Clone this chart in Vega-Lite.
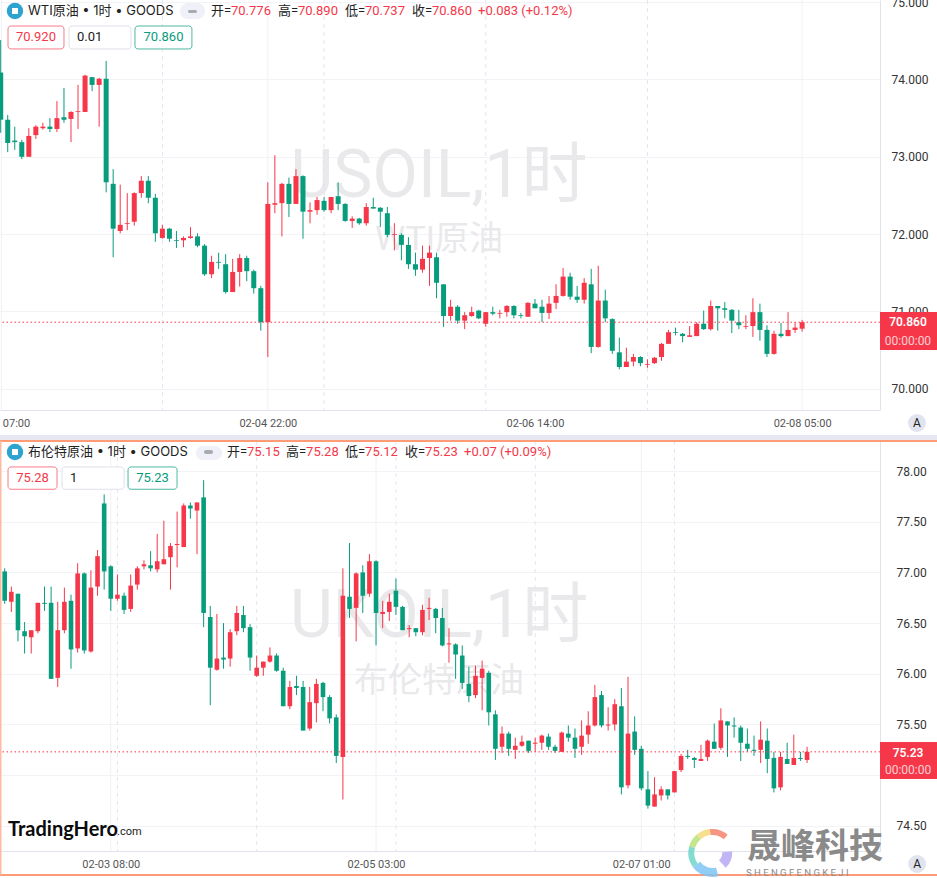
{"$schema":"https://vega.github.io/schema/vega-lite/v6.json","padding":{"left":-1,"right":0,"top":-4,"bottom":0},"background":"white","bounds":"flush","spacing":31,
"config":{"view":{"stroke":null},"font":"Roboto, 'Noto Sans CJK SC', sans-serif"},
"datasets":{
"wti":[{"i":0,"o":74.09,"h":74.51,"l":73.31,"c":73.48},{"i":1,"o":73.48,"h":73.54,"l":73.06,"c":73.18},{"i":2,"o":73.21,"h":73.39,"l":73.09,"c":73.19},{"i":3,"o":73.19,"h":73.22,"l":72.97,"c":73.0},{"i":4,"o":73.0,"h":73.37,"l":73.0,"c":73.27},{"i":5,"o":73.28,"h":73.41,"l":73.23,"c":73.39},{"i":6,"o":73.37,"h":73.44,"l":73.35,"c":73.39},{"i":7,"o":73.39,"h":73.5,"l":73.32,"c":73.36},{"i":8,"o":73.36,"h":73.72,"l":73.32,"c":73.5},{"i":9,"o":73.51,"h":73.89,"l":73.44,"c":73.48},{"i":10,"o":73.49,"h":73.59,"l":73.19,"c":73.58},{"i":11,"o":73.58,"h":73.93,"l":73.36,"c":73.59},{"i":12,"o":73.58,"h":74.06,"l":73.58,"c":74.05},{"i":13,"o":74.03,"h":74.03,"l":73.85,"c":73.93},{"i":14,"o":73.93,"h":74.02,"l":73.39,"c":74.01},{"i":15,"o":74.01,"h":74.24,"l":72.54,"c":72.67},{"i":16,"o":72.65,"h":72.84,"l":71.7,"c":72.07},{"i":17,"o":72.04,"h":72.64,"l":72.01,"c":72.12},{"i":18,"o":72.13,"h":72.53,"l":72.05,"c":72.14},{"i":19,"o":72.16,"h":72.54,"l":72.11,"c":72.53},{"i":20,"o":72.53,"h":72.75,"l":72.47,"c":72.69},{"i":21,"o":72.69,"h":72.75,"l":72.4,"c":72.47},{"i":22,"o":72.47,"h":72.52,"l":71.9,"c":72.01},{"i":23,"o":71.95,"h":72.12,"l":71.94,"c":72.07},{"i":24,"o":72.07,"h":72.08,"l":71.9,"c":71.94},{"i":25,"o":71.92,"h":72.04,"l":71.82,"c":71.91},{"i":26,"o":71.92,"h":71.97,"l":71.83,"c":71.95},{"i":27,"o":71.95,"h":72.09,"l":71.94,"c":71.97},{"i":28,"o":71.97,"h":72.01,"l":71.83,"c":71.85},{"i":29,"o":71.85,"h":71.87,"l":71.46,"c":71.48},{"i":30,"o":71.48,"h":71.72,"l":71.43,"c":71.64},{"i":31,"o":71.64,"h":71.76,"l":71.55,"c":71.63},{"i":32,"o":71.61,"h":71.74,"l":71.23,"c":71.25},{"i":33,"o":71.25,"h":71.68,"l":71.25,"c":71.51},{"i":34,"o":71.51,"h":71.74,"l":71.32,"c":71.69},{"i":35,"o":71.69,"h":71.72,"l":71.39,"c":71.52},{"i":36,"o":71.52,"h":71.54,"l":71.23,"c":71.3},{"i":37,"o":71.3,"h":71.33,"l":70.75,"c":70.86},{"i":38,"o":70.86,"h":72.67,"l":70.41,"c":72.39},{"i":39,"o":72.38,"h":73.02,"l":72.27,"c":72.4},{"i":40,"o":72.4,"h":72.66,"l":71.97,"c":72.65},{"i":41,"o":72.65,"h":72.73,"l":72.22,"c":72.39},{"i":42,"o":72.39,"h":72.84,"l":72.39,"c":72.75},{"i":43,"o":72.75,"h":72.76,"l":71.94,"c":72.29},{"i":44,"o":72.29,"h":72.41,"l":72.14,"c":72.31},{"i":45,"o":72.31,"h":72.48,"l":72.25,"c":72.44},{"i":46,"o":72.43,"h":72.48,"l":72.29,"c":72.31},{"i":47,"o":72.31,"h":72.48,"l":72.27,"c":72.48},{"i":48,"o":72.49,"h":72.67,"l":72.31,"c":72.39},{"i":49,"o":72.39,"h":72.4,"l":72.16,"c":72.17},{"i":50,"o":72.17,"h":72.23,"l":72.08,"c":72.2},{"i":51,"o":72.2,"h":72.21,"l":72.12,"c":72.14},{"i":52,"o":72.14,"h":72.4,"l":72.11,"c":72.35},{"i":53,"o":72.35,"h":72.47,"l":72.33,"c":72.33},{"i":54,"o":72.34,"h":72.35,"l":72.09,"c":72.29},{"i":55,"o":72.27,"h":72.35,"l":71.96,"c":71.99},{"i":56,"o":71.99,"h":72.14,"l":71.79,"c":72.0},{"i":57,"o":71.99,"h":72.01,"l":71.66,"c":71.86},{"i":58,"o":71.86,"h":71.96,"l":71.55,"c":71.61},{"i":59,"o":71.61,"h":71.76,"l":71.46,"c":71.54},{"i":60,"o":71.54,"h":71.85,"l":71.5,"c":71.68},{"i":61,"o":71.69,"h":71.85,"l":71.33,"c":71.76},{"i":62,"o":71.7,"h":71.76,"l":71.17,"c":71.37},{"i":63,"o":71.35,"h":71.35,"l":70.8,"c":70.94},{"i":64,"o":70.94,"h":71.15,"l":70.88,"c":71.06},{"i":65,"o":71.06,"h":71.08,"l":70.84,"c":70.88},{"i":66,"o":70.88,"h":70.99,"l":70.77,"c":70.95},{"i":67,"o":70.94,"h":71.06,"l":70.93,"c":70.99},{"i":68,"o":71.01,"h":71.02,"l":70.9,"c":70.91},{"i":69,"o":70.84,"h":70.99,"l":70.8,"c":70.99},{"i":70,"o":70.99,"h":71.06,"l":70.95,"c":70.97},{"i":71,"o":70.97,"h":71.02,"l":70.91,"c":70.98},{"i":72,"o":70.99,"h":71.08,"l":70.93,"c":71.07},{"i":73,"o":71.07,"h":71.08,"l":70.91,"c":70.95},{"i":74,"o":70.95,"h":70.98,"l":70.91,"c":70.94},{"i":75,"o":70.93,"h":71.12,"l":70.93,"c":71.11},{"i":76,"o":71.1,"h":71.16,"l":71.04,"c":71.04},{"i":77,"o":71.06,"h":71.15,"l":70.86,"c":70.98},{"i":78,"o":70.98,"h":71.2,"l":70.9,"c":71.1},{"i":79,"o":71.11,"h":71.35,"l":71.03,"c":71.2},{"i":80,"o":71.2,"h":71.56,"l":71.19,"c":71.45},{"i":81,"o":71.45,"h":71.5,"l":71.15,"c":71.19},{"i":82,"o":71.19,"h":71.33,"l":71.11,"c":71.15},{"i":83,"o":71.15,"h":71.43,"l":71.1,"c":71.37},{"i":84,"o":71.35,"h":71.55,"l":70.46,"c":70.54},{"i":85,"o":70.54,"h":71.59,"l":70.53,"c":71.14},{"i":86,"o":71.14,"h":71.28,"l":70.86,"c":70.91},{"i":87,"o":70.9,"h":70.91,"l":70.45,"c":70.49},{"i":88,"o":70.47,"h":70.66,"l":70.25,"c":70.28},{"i":89,"o":70.28,"h":70.53,"l":70.28,"c":70.35},{"i":90,"o":70.35,"h":70.45,"l":70.29,"c":70.41},{"i":91,"o":70.41,"h":70.42,"l":70.29,"c":70.33},{"i":92,"o":70.31,"h":70.38,"l":70.27,"c":70.32},{"i":93,"o":70.33,"h":70.41,"l":70.32,"c":70.4},{"i":94,"o":70.41,"h":70.59,"l":70.36,"c":70.58},{"i":95,"o":70.58,"h":70.76,"l":70.58,"c":70.73},{"i":96,"o":70.73,"h":70.79,"l":70.69,"c":70.72},{"i":97,"o":70.71,"h":70.72,"l":70.6,"c":70.68},{"i":98,"o":70.67,"h":70.81,"l":70.67,"c":70.69},{"i":99,"o":70.68,"h":70.86,"l":70.68,"c":70.84},{"i":100,"o":70.84,"h":71.01,"l":70.76,"c":70.77},{"i":101,"o":70.77,"h":71.14,"l":70.75,"c":71.07},{"i":102,"o":71.07,"h":71.07,"l":70.75,"c":71.04},{"i":103,"o":71.04,"h":71.12,"l":70.91,"c":71.02},{"i":104,"o":71.02,"h":71.03,"l":70.72,"c":70.88},{"i":105,"o":70.86,"h":71.02,"l":70.77,"c":70.82},{"i":106,"o":70.8,"h":70.95,"l":70.77,"c":70.81},{"i":107,"o":70.81,"h":71.17,"l":70.67,"c":70.99},{"i":108,"o":70.99,"h":71.1,"l":70.62,"c":70.76},{"i":109,"o":70.76,"h":70.82,"l":70.41,"c":70.45},{"i":110,"o":70.45,"h":70.75,"l":70.44,"c":70.71},{"i":111,"o":70.71,"h":70.85,"l":70.66,"c":70.68},{"i":112,"o":70.68,"h":70.99,"l":70.68,"c":70.76},{"i":113,"o":70.76,"h":70.86,"l":70.72,"c":70.79},{"i":114,"o":70.776,"h":70.89,"l":70.737,"c":70.86}],
"brent":[{"i":0,"o":77.01,"h":77.04,"l":76.69,"c":76.72},{"i":1,"o":76.71,"h":76.86,"l":76.61,"c":76.81},{"i":2,"o":76.79,"h":76.79,"l":76.32,"c":76.43},{"i":3,"o":76.42,"h":76.51,"l":76.2,"c":76.37},{"i":4,"o":76.36,"h":76.43,"l":76.2,"c":76.43},{"i":5,"o":76.42,"h":76.7,"l":76.4,"c":76.7},{"i":6,"o":76.7,"h":76.86,"l":76.62,"c":76.69},{"i":7,"o":76.7,"h":76.86,"l":75.95,"c":75.95},{"i":8,"o":75.96,"h":76.71,"l":75.87,"c":76.43},{"i":9,"o":76.43,"h":76.85,"l":76.4,"c":76.71},{"i":10,"o":76.72,"h":76.78,"l":76.05,"c":76.24},{"i":11,"o":76.25,"h":77.09,"l":76.21,"c":76.99},{"i":12,"o":76.99,"h":77.0,"l":76.2,"c":76.23},{"i":13,"o":76.22,"h":77.02,"l":76.21,"c":76.85},{"i":14,"o":76.86,"h":77.22,"l":76.77,"c":77.16},{"i":15,"o":77.68,"h":77.77,"l":76.83,"c":77.01},{"i":16,"o":77.06,"h":77.07,"l":76.62,"c":76.74},{"i":17,"o":76.74,"h":76.98,"l":76.72,"c":76.78},{"i":18,"o":76.77,"h":76.8,"l":76.59,"c":76.63},{"i":19,"o":76.64,"h":76.98,"l":76.61,"c":76.87},{"i":20,"o":76.88,"h":77.06,"l":76.83,"c":77.04},{"i":21,"o":77.06,"h":77.12,"l":77.03,"c":77.08},{"i":22,"o":77.07,"h":77.21,"l":77.01,"c":77.04},{"i":23,"o":77.03,"h":77.38,"l":77.0,"c":77.11},{"i":24,"o":77.08,"h":77.51,"l":77.08,"c":77.13},{"i":25,"o":77.15,"h":77.29,"l":76.83,"c":77.26},{"i":26,"o":77.27,"h":77.6,"l":77.05,"c":77.28},{"i":27,"o":77.25,"h":77.68,"l":77.25,"c":77.66},{"i":28,"o":77.66,"h":77.69,"l":77.53,"c":77.63},{"i":29,"o":77.61,"h":77.69,"l":77.18,"c":77.69},{"i":30,"o":77.74,"h":77.91,"l":76.46,"c":76.6},{"i":31,"o":76.56,"h":76.67,"l":75.69,"c":76.06},{"i":32,"o":76.04,"h":76.59,"l":76.03,"c":76.15},{"i":33,"o":76.16,"h":76.5,"l":76.05,"c":76.14},{"i":34,"o":76.15,"h":76.44,"l":76.07,"c":76.41},{"i":35,"o":76.42,"h":76.67,"l":76.38,"c":76.6},{"i":36,"o":76.58,"h":76.67,"l":76.41,"c":76.45},{"i":37,"o":76.46,"h":76.49,"l":76.03,"c":76.16},{"i":38,"o":75.98,"h":76.18,"l":75.97,"c":76.06},{"i":39,"o":76.06,"h":76.12,"l":75.98,"c":76.12},{"i":40,"o":76.12,"h":76.26,"l":76.11,"c":76.18},{"i":41,"o":76.18,"h":76.2,"l":76.02,"c":76.03},{"i":42,"o":76.03,"h":76.06,"l":75.68,"c":75.68},{"i":43,"o":75.68,"h":75.93,"l":75.65,"c":75.87},{"i":44,"o":75.88,"h":75.98,"l":75.79,"c":75.86},{"i":45,"o":75.87,"h":75.93,"l":75.44,"c":75.44},{"i":46,"o":75.46,"h":75.87,"l":75.44,"c":75.72},{"i":47,"o":75.71,"h":75.95,"l":75.52,"c":75.9},{"i":48,"o":75.91,"h":75.92,"l":75.63,"c":75.77},{"i":49,"o":75.77,"h":75.79,"l":75.51,"c":75.56},{"i":50,"o":75.57,"h":75.6,"l":75.12,"c":75.19},{"i":51,"o":75.18,"h":77.04,"l":74.76,"c":76.77},{"i":52,"o":76.76,"h":77.29,"l":76.55,"c":76.64},{"i":53,"o":76.65,"h":77.0,"l":76.32,"c":76.99},{"i":54,"o":77.0,"h":77.07,"l":76.6,"c":76.77},{"i":55,"o":76.79,"h":77.18,"l":76.76,"c":77.11},{"i":56,"o":77.11,"h":77.12,"l":76.28,"c":76.6},{"i":57,"o":76.59,"h":76.72,"l":76.45,"c":76.61},{"i":58,"o":76.61,"h":76.79,"l":76.52,"c":76.71},{"i":59,"o":76.82,"h":76.94,"l":76.58,"c":76.66},{"i":60,"o":76.66,"h":76.67,"l":76.43,"c":76.43},{"i":61,"o":76.44,"h":76.48,"l":76.36,"c":76.45},{"i":62,"o":76.45,"h":76.45,"l":76.37,"c":76.41},{"i":63,"o":76.41,"h":76.68,"l":76.38,"c":76.63},{"i":64,"o":76.64,"h":76.75,"l":76.53,"c":76.65},{"i":65,"o":76.64,"h":76.65,"l":76.4,"c":76.55},{"i":66,"o":76.55,"h":76.65,"l":76.27,"c":76.28},{"i":67,"o":76.29,"h":76.45,"l":76.11,"c":76.3},{"i":68,"o":76.29,"h":76.3,"l":75.95,"c":76.19},{"i":69,"o":76.18,"h":76.28,"l":75.85,"c":75.91},{"i":70,"o":75.9,"h":76.07,"l":75.72,"c":75.78},{"i":71,"o":75.79,"h":76.08,"l":75.76,"c":75.98},{"i":72,"o":75.96,"h":76.13,"l":75.64,"c":76.05},{"i":73,"o":76.01,"h":76.03,"l":75.49,"c":75.62},{"i":74,"o":75.6,"h":75.64,"l":75.15,"c":75.26},{"i":75,"o":75.28,"h":75.48,"l":75.22,"c":75.41},{"i":76,"o":75.41,"h":75.43,"l":75.19,"c":75.26},{"i":77,"o":75.25,"h":75.37,"l":75.16,"c":75.29},{"i":78,"o":75.29,"h":75.39,"l":75.28,"c":75.33},{"i":79,"o":75.34,"h":75.34,"l":75.22,"c":75.24},{"i":80,"o":75.31,"h":75.37,"l":75.23,"c":75.32},{"i":81,"o":75.32,"h":75.4,"l":75.25,"c":75.39},{"i":82,"o":75.38,"h":75.41,"l":75.25,"c":75.28},{"i":83,"o":75.28,"h":75.3,"l":75.22,"c":75.24},{"i":84,"o":75.23,"h":75.43,"l":75.23,"c":75.42},{"i":85,"o":75.41,"h":75.49,"l":75.33,"c":75.37},{"i":86,"o":75.37,"h":75.46,"l":75.17,"c":75.26},{"i":87,"o":75.28,"h":75.54,"l":75.2,"c":75.39},{"i":88,"o":75.4,"h":75.63,"l":75.31,"c":75.49},{"i":89,"o":75.49,"h":75.89,"l":75.48,"c":75.77},{"i":90,"o":75.79,"h":75.83,"l":75.47,"c":75.49},{"i":91,"o":75.49,"h":75.67,"l":75.44,"c":75.5},{"i":92,"o":75.5,"h":75.75,"l":75.44,"c":75.7},{"i":93,"o":75.68,"h":75.86,"l":74.81,"c":74.88},{"i":94,"o":74.9,"h":75.97,"l":74.87,"c":75.41},{"i":95,"o":75.43,"h":75.58,"l":75.2,"c":75.25},{"i":96,"o":75.26,"h":75.29,"l":74.85,"c":74.87},{"i":97,"o":74.86,"h":75.04,"l":74.67,"c":74.7},{"i":98,"o":74.69,"h":74.98,"l":74.69,"c":74.81},{"i":99,"o":74.8,"h":74.89,"l":74.75,"c":74.86},{"i":100,"o":74.86,"h":74.86,"l":74.76,"c":74.8},{"i":101,"o":74.83,"h":75.04,"l":74.83,"c":75.04},{"i":102,"o":75.05,"h":75.21,"l":75.03,"c":75.19},{"i":103,"o":75.19,"h":75.25,"l":75.16,"c":75.18},{"i":104,"o":75.17,"h":75.18,"l":75.07,"c":75.15},{"i":105,"o":75.14,"h":75.3,"l":75.14,"c":75.16},{"i":106,"o":75.18,"h":75.35,"l":75.14,"c":75.34},{"i":107,"o":75.33,"h":75.51,"l":75.26,"c":75.26},{"i":108,"o":75.27,"h":75.66,"l":75.25,"c":75.54},{"i":109,"o":75.53,"h":75.53,"l":75.18,"c":75.49},{"i":110,"o":75.49,"h":75.57,"l":75.37,"c":75.48},{"i":111,"o":75.47,"h":75.49,"l":75.14,"c":75.32},{"i":112,"o":75.31,"h":75.46,"l":75.23,"c":75.26},{"i":113,"o":75.25,"h":75.39,"l":75.19,"c":75.24},{"i":114,"o":75.25,"h":75.53,"l":75.12,"c":75.35},{"i":115,"o":75.34,"h":75.46,"l":75.02,"c":75.16},{"i":116,"o":75.17,"h":75.23,"l":74.83,"c":74.87},{"i":117,"o":74.88,"h":75.23,"l":74.85,"c":75.18},{"i":118,"o":75.16,"h":75.32,"l":75.11,"c":75.11},{"i":119,"o":75.1,"h":75.4,"l":75.1,"c":75.17},{"i":120,"o":75.17,"h":75.23,"l":75.14,"c":75.16},{"i":121,"o":75.15,"h":75.28,"l":75.12,"c":75.23}]
},
"vconcat":[
{"width":880,"height":410,"layer":[
{"data":{"values":[{"t":"USOIL,1时"}]},"mark":{"type":"text","fontSize":66,"color":"#e9e9eb"},"encoding":{"text":{"field":"t"},"x":{"datum":62.35,"scale":{"domain":[-0.0996,125.08],"nice":false,"zero":false,"padding":0}},"y":{"datum":72.739,"scale":{"domain":[69.724,75.0285],"nice":false,"zero":false}}}},
{"data":{"values":[{"t":"WTI原油"}]},"mark":{"type":"text","fontSize":34,"color":"#e9e9eb"},"encoding":{"text":{"field":"t"},"x":{"datum":62.35},"y":{"datum":71.92}}},
{"data":{"values":[{"i":0.1},{"i":38},{"i":114}]},"mark":{"type":"rule","color":"#f0f1f5","strokeWidth":1},"encoding":{"x":{"field":"i","type":"quantitative"}}},
{"data":{"values":[{"i":23},{"i":46},{"i":69},{"i":92}]},"mark":{"type":"rule","color":"#e3e5ef","strokeWidth":1,"strokeDash":[4,4]},"encoding":{"x":{"field":"i","type":"quantitative"}}},
{"data":{"name":"wti"},"mark":{"type":"rule","clip":true,"strokeWidth":1},"encoding":{"x":{"field":"i","type":"quantitative","title":null,"axis":{"values":[2.18,38,76,114],"labelExpr":"datum.value<3?'07:00':datum.value==38?'02-04 22:00':datum.value==76?'02-06 14:00':'02-08 05:00'","title":null,"grid":false,"ticks":false,"domainColor":"#e0e3eb","labelColor":"#555555","labelFontSize":11,"labelPadding":7,"labelOverlap":false,"labelFlush":false}},"y":{"field":"l","type":"quantitative","title":null,"axis":{"orient":"right","values":[70,71,72,73,74,75],"format":".3f","title":null,"grid":true,"gridColor":"#f2f3f7","ticks":false,"domainColor":"#e0e3eb","labelColor":"#333333","labelFontSize":12,"labelPadding":11,"labelOverlap":false}},"y2":{"field":"h"},"color":{"condition":{"test":"datum.c>=datum.o","value":"#f53749"},"value":"#079c7c"}}},
{"data":{"name":"wti"},"mark":{"type":"bar","clip":true,"size":5},"encoding":{"x":{"field":"i","type":"quantitative"},"y":{"field":"o","type":"quantitative"},"y2":{"field":"c"},"color":{"condition":{"test":"datum.c>=datum.o","value":"#f53749"},"value":"#079c7c"}}},
{"data":{"values":[{"p":70.86}]},"mark":{"type":"rule","color":"#f53749","strokeWidth":1,"strokeDash":[1.5,2.5]},"encoding":{"y":{"field":"p","type":"quantitative"}}},
{"data":{"values":[{"k":"tag"}]},"mark":{"type":"rect","color":"#f53749"},"encoding":{"x":{"datum":125.08},"x2":{"datum":133.19},"y":{"datum":70.992},"y2":{"datum":70.5}}},
{"data":{"values":[{"t":"70.860"}]},"mark":{"type":"text","color":"white","fontSize":12,"fontWeight":600},"encoding":{"text":{"field":"t"},"x":{"datum":129.06},"y":{"datum":70.86}}},
{"data":{"values":[{"t":"00:00:00"}]},"mark":{"type":"text","color":"white","opacity":0.75,"fontSize":12},"encoding":{"text":{"field":"t"},"x":{"datum":129.06},"y":{"datum":70.617}}},
{"data":{"values":[{"k":"band"}]},"mark":{"type":"rect","color":"#e6e7f0"},"encoding":{"x":{"datum":-0.0996},"x2":{"datum":133.19},"y":{"datum":69.401},"y2":{"datum":69.336}}},
{"data":{"values":[{"k":"a"}]},"mark":{"type":"point","filled":true,"shape":"circle","size":320,"color":"#e1e4ee","opacity":1},"encoding":{"x":{"datum":130.34},"y":{"datum":69.556}}},
{"data":{"values":[{"t":"A"}]},"mark":{"type":"text","fontSize":12,"color":"#222222"},"encoding":{"text":{"field":"t"},"x":{"datum":130.34},"y":{"datum":69.556}}},
{"data":{"values":[{"k":"logo"}]},"mark":{"type":"point","filled":true,"shape":"circle","size":270,"color":"#2ea3cf","opacity":1},"encoding":{"x":{"datum":2.03},"y":{"datum":74.886}}},
{"data":{"values":[{"k":"logo2"}]},"mark":{"type":"point","filled":true,"shape":"square","size":36,"color":"white","opacity":1},"encoding":{"x":{"datum":2.03},"y":{"datum":74.886}}},
{"data":{"values":[{"t":"WTI原油 • 1时 • GOODS"}]},"mark":{"type":"text","align":"left","fontSize":13,"color":"#222222","font":"Inter, 'Noto Sans CJK SC', sans-serif"},"encoding":{"text":{"field":"t"},"x":{"datum":3.88},"y":{"datum":74.886}}},
{"data":{"values":[{"k":"pill"}]},"mark":{"type":"rect","color":"#eff0f8","cornerRadius":8},"encoding":{"x":{"datum":25.5},"x2":{"datum":29.06},"y":{"datum":74.99},"y2":{"datum":74.783}}},
{"data":{"values":[{"k":"pill2"}]},"mark":{"type":"rect","color":"#a9abb3","cornerRadius":2},"encoding":{"x":{"datum":26.64},"x2":{"datum":27.92},"y":{"datum":74.899},"y2":{"datum":74.86}}},
{"data":{"values":[{"t":"开="}]},"mark":{"type":"text","align":"left","fontSize":13,"color":"#222222"},"encoding":{"text":{"field":"t"},"x":{"datum":29.92},"y":{"datum":74.886}}},
{"data":{"values":[{"t":"70.776"}]},"mark":{"type":"text","align":"left","fontSize":13,"color":"#f53749"},"encoding":{"text":{"field":"t"},"x":{"datum":32.76},"y":{"datum":74.886}}},
{"data":{"values":[{"t":"高="}]},"mark":{"type":"text","align":"left","fontSize":13,"color":"#222222"},"encoding":{"text":{"field":"t"},"x":{"datum":39.44},"y":{"datum":74.886}}},
{"data":{"values":[{"t":"70.890"}]},"mark":{"type":"text","align":"left","fontSize":13,"color":"#f53749"},"encoding":{"text":{"field":"t"},"x":{"datum":42.29},"y":{"datum":74.886}}},
{"data":{"values":[{"t":"低="}]},"mark":{"type":"text","align":"left","fontSize":13,"color":"#222222"},"encoding":{"text":{"field":"t"},"x":{"datum":48.98},"y":{"datum":74.886}}},
{"data":{"values":[{"t":"70.737"}]},"mark":{"type":"text","align":"left","fontSize":13,"color":"#f53749"},"encoding":{"text":{"field":"t"},"x":{"datum":51.82},"y":{"datum":74.886}}},
{"data":{"values":[{"t":"收="}]},"mark":{"type":"text","align":"left","fontSize":13,"color":"#222222"},"encoding":{"text":{"field":"t"},"x":{"datum":58.51},"y":{"datum":74.886}}},
{"data":{"values":[{"t":"70.860"}]},"mark":{"type":"text","align":"left","fontSize":13,"color":"#f53749"},"encoding":{"text":{"field":"t"},"x":{"datum":61.35},"y":{"datum":74.886}}},
{"data":{"values":[{"t":"+0.083 (+0.12%)"}]},"mark":{"type":"text","align":"left","fontSize":13,"color":"#f53749"},"encoding":{"text":{"field":"t"},"x":{"datum":67.9},"y":{"datum":74.886}}},
{"data":{"values":[{"k":"b1"}]},"mark":{"type":"rect","fill":"white","stroke":"#f87b88","strokeWidth":1,"cornerRadius":3},"encoding":{"x":{"datum":1.04},"x2":{"datum":9.0},"y":{"datum":74.692},"y2":{"datum":74.395}}},
{"data":{"values":[{"k":"b2"}]},"mark":{"type":"rect","fill":"white","stroke":"#dfe1ea","strokeWidth":1,"cornerRadius":3},"encoding":{"x":{"datum":9.72},"x2":{"datum":18.53},"y":{"datum":74.692},"y2":{"datum":74.395}}},
{"data":{"values":[{"k":"b3"}]},"mark":{"type":"rect","fill":"white","stroke":"#4fb8a1","strokeWidth":1,"cornerRadius":3},"encoding":{"x":{"datum":19.1},"x2":{"datum":27.2},"y":{"datum":74.692},"y2":{"datum":74.395}}},
{"data":{"values":[{"t":"70.920"}]},"mark":{"type":"text","fontSize":13,"color":"#f53749"},"encoding":{"text":{"field":"t"},"x":{"datum":5.02},"y":{"datum":74.55}}},
{"data":{"values":[{"t":"0.01"}]},"mark":{"type":"text","align":"left","fontSize":13,"color":"#222222"},"encoding":{"text":{"field":"t"},"x":{"datum":10.86},"y":{"datum":74.55}}},
{"data":{"values":[{"t":"70.860"}]},"mark":{"type":"text","fontSize":13,"color":"#079c7c"},"encoding":{"text":{"field":"t"},"x":{"datum":23.16},"y":{"datum":74.55}}}
]},
{"width":880,"height":410,"layer":[
{"data":{"values":[{"t":"UKOIL,1时"}]},"mark":{"type":"text","fontSize":66,"color":"#e9e9eb"},"encoding":{"text":{"field":"t"},"x":{"datum":65.5,"scale":{"domain":[-0.709,132.0],"nice":false,"zero":false,"padding":0}},"y":{"datum":76.56,"scale":{"domain":[74.252,78.296],"nice":false,"zero":false}}}},
{"data":{"values":[{"t":"布伦特原油"}]},"mark":{"type":"text","fontSize":34,"color":"#e9e9eb"},"encoding":{"text":{"field":"t"},"x":{"datum":65.5},"y":{"datum":75.919}}},
{"data":{"values":[{"i":16},{"i":56},{"i":96}]},"mark":{"type":"rule","color":"#f0f1f5","strokeWidth":1},"encoding":{"x":{"field":"i","type":"quantitative"}}},
{"data":{"values":[{"i":17},{"i":38},{"i":59},{"i":80},{"i":101}]},"mark":{"type":"rule","color":"#e3e5ef","strokeWidth":1,"strokeDash":[4,4]},"encoding":{"x":{"field":"i","type":"quantitative"}}},
{"data":{"name":"brent"},"mark":{"type":"rule","clip":true,"strokeWidth":1},"encoding":{"x":{"field":"i","type":"quantitative","title":null,"axis":{"values":[16,56,96],"labelExpr":"datum.value==16?'02-03 08:00':datum.value==56?'02-05 03:00':'02-07 01:00'","title":null,"grid":false,"ticks":false,"domainColor":"#e0e3eb","labelColor":"#555555","labelFontSize":11,"labelPadding":7,"labelOverlap":false,"labelFlush":false}},"y":{"field":"l","type":"quantitative","title":null,"axis":{"orient":"right","values":[74.5,75,75.5,76,76.5,77,77.5,78],"labelExpr":"datum.value==75?'':format(datum.value,'.2f')","title":null,"grid":true,"gridColor":"#f2f3f7","ticks":false,"domainColor":"#e0e3eb","labelColor":"#333333","labelFontSize":12,"labelPadding":16,"labelOverlap":false}},"y2":{"field":"h"},"color":{"condition":{"test":"datum.c>=datum.o","value":"#f53749"},"value":"#079c7c"}}},
{"data":{"name":"brent"},"mark":{"type":"bar","clip":true,"size":4.6},"encoding":{"x":{"field":"i","type":"quantitative"},"y":{"field":"o","type":"quantitative"},"y2":{"field":"c"},"color":{"condition":{"test":"datum.c>=datum.o","value":"#f53749"},"value":"#079c7c"}}},
{"data":{"values":[{"p":75.23}]},"mark":{"type":"rule","color":"#f53749","strokeWidth":1,"strokeDash":[1.5,2.5]},"encoding":{"y":{"field":"p","type":"quantitative"}}},
{"data":{"values":[{"k":"tag"}]},"mark":{"type":"rect","color":"#f53749"},"encoding":{"x":{"datum":132.0},"x2":{"datum":140.6},"y":{"datum":75.327},"y2":{"datum":74.962}}},
{"data":{"values":[{"t":"75.23"}]},"mark":{"type":"text","color":"white","fontSize":12,"fontWeight":600},"encoding":{"text":{"field":"t"},"x":{"datum":136.23},"y":{"datum":75.222}}},
{"data":{"values":[{"t":"00:00:00"}]},"mark":{"type":"text","color":"white","opacity":0.75,"fontSize":12},"encoding":{"text":{"field":"t"},"x":{"datum":136.23},"y":{"datum":75.051}}},
{"data":{"values":[{"k":"top"}]},"mark":{"type":"rule","color":"#ff7b4a","strokeWidth":1.5},"encoding":{"x":{"datum":-0.709},"x2":{"datum":140.6},"y":{"datum":78.296}}},
{"data":{"values":[{"k":"bottom"}]},"mark":{"type":"rule","color":"#ff7b4a","strokeWidth":1.5},"encoding":{"x":{"datum":-0.709},"x2":{"datum":140.6},"y":{"datum":74.016}}},
{"data":{"values":[{"k":"left"}]},"mark":{"type":"rule","color":"#ffb9a0","strokeWidth":1.5},"encoding":{"x":{"datum":-0.6},"y":{"datum":78.296},"y2":{"datum":74.016}}},
{"data":{"values":[{"k":"a"}]},"mark":{"type":"point","filled":true,"shape":"circle","size":320,"color":"#e1e4ee","opacity":1},"encoding":{"x":{"datum":137.6},"y":{"datum":74.124}}},
{"data":{"values":[{"t":"A"}]},"mark":{"type":"text","fontSize":12,"color":"#222222"},"encoding":{"text":{"field":"t"},"x":{"datum":137.6},"y":{"datum":74.124}}},
{"data":{"values":[{"k":"logo"}]},"mark":{"type":"point","filled":true,"shape":"circle","size":270,"color":"#2ea3cf","opacity":1},"encoding":{"x":{"datum":1.55},"y":{"datum":78.187}}},
{"data":{"values":[{"k":"logo2"}]},"mark":{"type":"point","filled":true,"shape":"square","size":36,"color":"white","opacity":1},"encoding":{"x":{"datum":1.55},"y":{"datum":78.187}}},
{"data":{"values":[{"t":"布伦特原油 • 1时 • GOODS"}]},"mark":{"type":"text","align":"left","fontSize":13,"color":"#222222","font":"Inter, 'Noto Sans CJK SC', sans-serif"},"encoding":{"text":{"field":"t"},"x":{"datum":3.51},"y":{"datum":78.187}}},
{"data":{"values":[{"k":"pill"}]},"mark":{"type":"rect","color":"#eff0f8","cornerRadius":7},"encoding":{"x":{"datum":28.85},"x2":{"datum":32.78},"y":{"datum":78.246},"y2":{"datum":78.109}}},
{"data":{"values":[{"k":"pill2"}]},"mark":{"type":"rect","color":"#a9abb3","cornerRadius":2},"encoding":{"x":{"datum":30.06},"x2":{"datum":31.42},"y":{"datum":78.207},"y2":{"datum":78.167}}},
{"data":{"values":[{"t":"开="}]},"mark":{"type":"text","align":"left","fontSize":13,"color":"#222222"},"encoding":{"text":{"field":"t"},"x":{"datum":33.53},"y":{"datum":78.187}}},
{"data":{"values":[{"t":"75.15"}]},"mark":{"type":"text","align":"left","fontSize":13,"color":"#f53749"},"encoding":{"text":{"field":"t"},"x":{"datum":36.55},"y":{"datum":78.187}}},
{"data":{"values":[{"t":"高="}]},"mark":{"type":"text","align":"left","fontSize":13,"color":"#222222"},"encoding":{"text":{"field":"t"},"x":{"datum":42.43},"y":{"datum":78.187}}},
{"data":{"values":[{"t":"75.28"}]},"mark":{"type":"text","align":"left","fontSize":13,"color":"#f53749"},"encoding":{"text":{"field":"t"},"x":{"datum":45.45},"y":{"datum":78.187}}},
{"data":{"values":[{"t":"低="}]},"mark":{"type":"text","align":"left","fontSize":13,"color":"#222222"},"encoding":{"text":{"field":"t"},"x":{"datum":51.33},"y":{"datum":78.187}}},
{"data":{"values":[{"t":"75.12"}]},"mark":{"type":"text","align":"left","fontSize":13,"color":"#f53749"},"encoding":{"text":{"field":"t"},"x":{"datum":54.35},"y":{"datum":78.187}}},
{"data":{"values":[{"t":"收="}]},"mark":{"type":"text","align":"left","fontSize":13,"color":"#222222"},"encoding":{"text":{"field":"t"},"x":{"datum":60.38},"y":{"datum":78.187}}},
{"data":{"values":[{"t":"75.23"}]},"mark":{"type":"text","align":"left","fontSize":13,"color":"#f53749"},"encoding":{"text":{"field":"t"},"x":{"datum":63.4},"y":{"datum":78.187}}},
{"data":{"values":[{"t":"+0.07 (+0.09%)"}]},"mark":{"type":"text","align":"left","fontSize":13,"color":"#f53749"},"encoding":{"text":{"field":"t"},"x":{"datum":69.27},"y":{"datum":78.187}}},
{"data":{"values":[{"k":"b1"}]},"mark":{"type":"rect","fill":"white","stroke":"#f87b88","strokeWidth":1,"cornerRadius":3},"encoding":{"x":{"datum":0.5},"x2":{"datum":7.89},"y":{"datum":78.04},"y2":{"datum":77.82}}},
{"data":{"values":[{"k":"b2"}]},"mark":{"type":"rect","fill":"white","stroke":"#dfe1ea","strokeWidth":1,"cornerRadius":3},"encoding":{"x":{"datum":8.64},"x2":{"datum":18},"y":{"datum":78.04},"y2":{"datum":77.82}}},
{"data":{"values":[{"k":"b3"}]},"mark":{"type":"rect","fill":"white","stroke":"#4fb8a1","strokeWidth":1,"cornerRadius":3},"encoding":{"x":{"datum":18.6},"x2":{"datum":25.99},"y":{"datum":78.04},"y2":{"datum":77.82}}},
{"data":{"values":[{"t":"75.28"}]},"mark":{"type":"text","fontSize":13,"color":"#f53749"},"encoding":{"text":{"field":"t"},"x":{"datum":4.19},"y":{"datum":77.931}}},
{"data":{"values":[{"t":"1"}]},"mark":{"type":"text","align":"left","fontSize":13,"color":"#222222"},"encoding":{"text":{"field":"t"},"x":{"datum":9.85},"y":{"datum":77.931}}},
{"data":{"values":[{"t":"75.23"}]},"mark":{"type":"text","fontSize":13,"color":"#079c7c"},"encoding":{"text":{"field":"t"},"x":{"datum":22.29},"y":{"datum":77.931}}},
{"data":{"values":[{"t":"TradingHero"}]},"mark":{"type":"text","align":"left","fontSize":20,"fontWeight":"bold","color":"#0b0b0b","font":"Lato"},"encoding":{"text":{"field":"t"},"x":{"datum":0.5},"y":{"datum":74.46}}},
{"data":{"values":[{"t":".com"}]},"mark":{"type":"text","align":"left","fontSize":11,"color":"#222222"},"encoding":{"text":{"field":"t"},"x":{"datum":16.94},"y":{"datum":74.44}}},
{"data":{"values":[{"k":"a1"}]},"mark":{"type":"arc","innerRadius":18,"outerRadius":24,"theta":-0.1,"theta2":0.7,"color":"#f4836b","opacity":0.85},"encoding":{"x":{"datum":106.7},"y":{"datum":74.233}}},
{"data":{"values":[{"k":"a2"}]},"mark":{"type":"arc","innerRadius":18,"outerRadius":24,"theta":-0.7,"theta2":-0.1,"color":"#f7d97a","opacity":0.85},"encoding":{"x":{"datum":106.7},"y":{"datum":74.233}}},
{"data":{"values":[{"k":"a3"}]},"mark":{"type":"arc","innerRadius":18,"outerRadius":24,"theta":-1.3,"theta2":-0.7,"color":"#b9e27a","opacity":0.85},"encoding":{"x":{"datum":106.7},"y":{"datum":74.233}}},
{"data":{"values":[{"k":"a4"}]},"mark":{"type":"arc","innerRadius":18,"outerRadius":24,"theta":-2.2,"theta2":-1.3,"color":"#6fd6c8","opacity":0.85},"encoding":{"x":{"datum":106.7},"y":{"datum":74.233}}},
{"data":{"values":[{"k":"a5"}]},"mark":{"type":"arc","innerRadius":15,"outerRadius":24,"theta":-3.4,"theta2":-2.2,"color":"#7fc4f5","opacity":0.85},"encoding":{"x":{"datum":106.7},"y":{"datum":74.233}}},
{"data":{"values":[{"k":"a6"}]},"mark":{"type":"arc","innerRadius":10,"outerRadius":20,"theta":1.5,"theta2":2.4,"color":"#b7a8f5","opacity":0.85},"encoding":{"x":{"datum":106.7},"y":{"datum":74.233}}},
{"data":{"values":[{"t":"晟峰科技"}]},"mark":{"type":"text","align":"left","fontSize":34,"fontWeight":"bold","color":"#8a8a8a"},"encoding":{"text":{"field":"t"},"x":{"datum":111.96},"y":{"datum":74.282}}},
{"data":{"values":[{"t":"S H E N G F E N G K E J I"}]},"mark":{"type":"text","align":"left","fontSize":9.5,"color":"#8a8a8a"},"encoding":{"text":{"field":"t"},"x":{"datum":111.8},"y":{"datum":74.036}}}
]}
]}
